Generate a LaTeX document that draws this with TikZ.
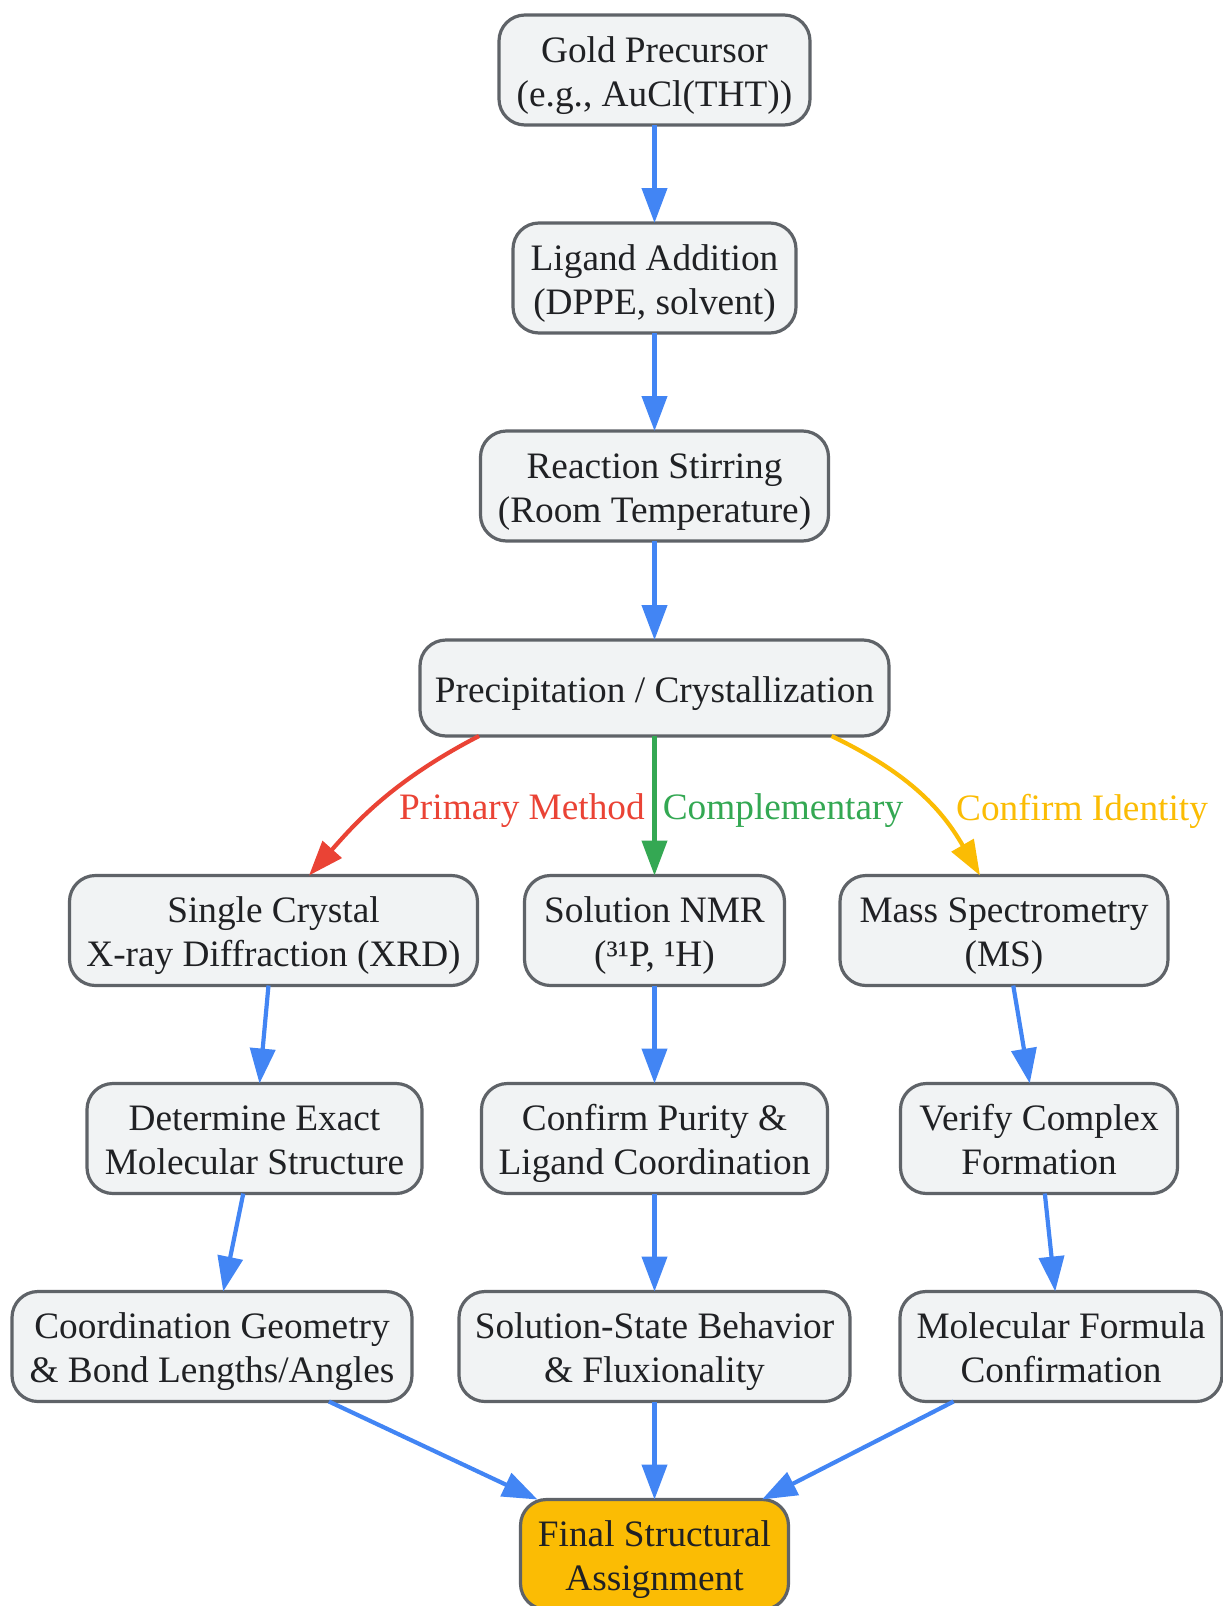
\documentclass[tikz,border=0pt]{standalone}
\usepackage{fontspec}
\setmainfont{Liberation Serif}
\usetikzlibrary{arrows.meta}
\definecolor{nodefill}{HTML}{F1F3F4}
\definecolor{nodeline}{HTML}{5F6368}
\definecolor{txt}{HTML}{202124}
\definecolor{gblue}{HTML}{4285F4}
\definecolor{gred}{HTML}{EA4335}
\definecolor{ggreen}{HTML}{34A853}
\definecolor{gyellow}{HTML}{FBBC04}
\newcommand{\lnstrut}{\rule[-10pt]{0pt}{43pt}}
\begin{document}
\begin{tikzpicture}[x=1pt,y=-1pt,
  box/.style={draw=nodeline, line width=3.2pt, fill=nodefill, rounded corners=26pt,
    inner sep=0pt, outer sep=0pt, minimum height=110pt},
  boxtext/.style={align=center, text=txt, font=\fontsize{37.3}{44}\selectfont,
    inner sep=0pt, yshift=-2.5pt},
  conn/.style={line width=4.2pt, -{Triangle[length=35pt,width=25pt]}},
  blueconn/.style={conn, draw=gblue},
  redconn/.style={conn, draw=gred},
  greenconn/.style={conn, draw=ggreen},
  yellowconn/.style={conn, draw=gyellow},
  elabel/.style={font=\fontsize{37.3}{44}\selectfont, inner sep=0pt}
]
\useasboundingbox (0,0) rectangle (1223,1606);

\node[box, minimum width=311pt, label={[boxtext]center:{\lnstrut Gold Precursor\\\lnstrut(e.g., AuCl(THT))}}] (gold) at (654.5,70) {};
\node[box, minimum width=283pt, label={[boxtext]center:{\lnstrut Ligand Addition\\\lnstrut(DPPE, solvent)}}] (lig) at (654.5,278) {};
\node[box, minimum width=348pt, label={[boxtext]center:{\lnstrut Reaction Stirring\\\lnstrut(Room Temperature)}}] (rxn) at (654.5,486) {};
\node[box, minimum width=469pt, minimum height=96pt, label={[boxtext]center:{\lnstrut Precipitation / Crystallization}}] (prec) at (654.5,688) {};

\node[box, minimum width=408pt, label={[boxtext]center:{\lnstrut Single Crystal\\\lnstrut X-ray Diffraction (XRD)}}] (xrd) at (273.5,930.5) {};
\node[box, minimum width=260pt, label={[boxtext]center:{\lnstrut Solution NMR\\\lnstrut(³¹P, ¹H)}}] (nmr) at (654.5,930.5) {};
\node[box, minimum width=328pt, label={[boxtext]center:{\lnstrut Mass Spectrometry\\\lnstrut(MS)}}] (ms) at (1004,930.5) {};

\node[box, minimum width=335pt, label={[boxtext]center:{\lnstrut Determine Exact\\\lnstrut Molecular Structure}}] (det) at (254.5,1138.5) {};
\node[box, minimum width=346pt, label={[boxtext]center:{\lnstrut Confirm Purity \&\\\lnstrut Ligand Coordination}}] (pur) at (654.5,1138.5) {};
\node[box, minimum width=277pt, label={[boxtext]center:{\lnstrut Verify Complex\\\lnstrut Formation}}] (ver) at (1039,1138.5) {};

\node[box, minimum width=400pt, label={[boxtext]center:{\lnstrut Coordination Geometry\\\lnstrut\& Bond Lengths/Angles}}] (geo) at (212,1346.5) {};
\node[box, minimum width=391pt, label={[boxtext]center:{\lnstrut Solution-State Behavior\\\lnstrut\& Fluxionality}}] (sol) at (654.5,1346.5) {};
\node[box, minimum width=322pt, label={[boxtext]center:{\lnstrut Molecular Formula\\\lnstrut Confirmation}}] (mol) at (1061,1346.5) {};

\node[box, minimum width=268pt, fill=gyellow, label={[boxtext]center:{\lnstrut Final Structural\\\lnstrut Assignment}}] (fin) at (654.5,1554.5) {};

\draw[blueconn] (gold) -- (lig);
\draw[blueconn] (lig) -- (rxn);
\draw[blueconn] (rxn) -- (prec);

\draw[redconn] ([xshift=-175.5pt]prec.south) .. controls (390,782) and (353,826) .. ([xshift=35.5pt]xrd.north);
\draw[greenconn] (prec) -- (nmr);
\draw[yellowconn] ([xshift=177pt]prec.south) .. controls (913,775) and (944,813) .. ([xshift=-24pt]ms.north);

\node[elabel, text=gred] (lab1) at (522,811) {Primary Method};
\node[elabel, text=ggreen] (lab2) at (783,811) {Complementary};
\node[elabel, text=gyellow] (lab3) at (1082,811) {Confirm Identity};

\draw[blueconn] (xrd) -- (det);
\draw[blueconn] (det) -- (geo);
\draw[blueconn] (nmr) -- (pur);
\draw[blueconn] (pur) -- (sol);
\draw[blueconn] (ms) -- (ver);
\draw[blueconn] (ver) -- (mol);

\draw[blueconn] (geo) -- (fin);
\draw[blueconn] (sol) -- (fin);
\draw[blueconn] (mol) -- (fin);
\end{tikzpicture}
\end{document}
